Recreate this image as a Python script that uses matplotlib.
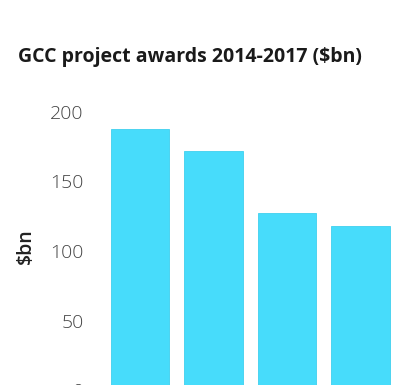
import matplotlib.pyplot as plt

years = ['2014', '2015', '2016', '2017']
awards = [188, 172, 127, 118]

plt.rcParams['font.family'] = ['Open Sans', 'DejaVu Sans']

fig = plt.figure(figsize=(4.19, 3.85), dpi=100)
ax = fig.add_axes([103.25 / 419, -5 / 385, 294 / 419, 278 / 385])

ax.bar(range(len(years)), awards, width=0.79, color='#47dcfb', edgecolor='#3fd0ee', linewidth=0.6)
ax.set_xlim(-0.5, 3.5)
ax.set_ylim(0, 200)
ax.set_yticks([0, 50, 100, 150, 200])
ax.set_xticks([])
ax.tick_params(axis='y', length=0, pad=14, labelsize=14, labelcolor='#444444')
for lbl in ax.get_yticklabels():
    lbl.set_fontweight('light')
for s in ax.spines.values():
    s.set_visible(False)

ax.set_ylabel('\\$bn', fontsize=14, fontweight='semibold', color='#222222')
ax.yaxis.set_label_coords(-67 / 294, 0.5 + 5 / 278)

fig.text(18 / 419, 1 - 57 / 385, 'GCC project awards 2014-2017 (\\$bn)', fontsize=14,
         fontweight='bold', color='#1a1a1a', va='center', ha='left')

fig.savefig('out.png', dpi=100)
